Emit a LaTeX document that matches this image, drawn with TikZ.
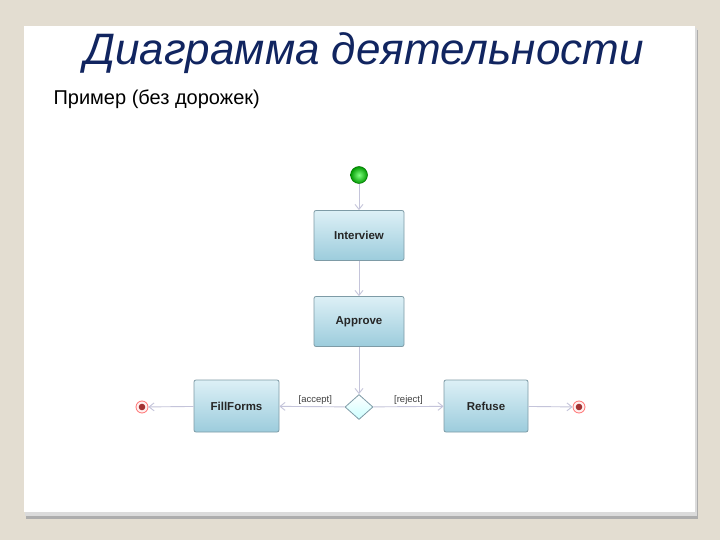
\documentclass[tikz,border=0pt]{standalone}
\usepackage{fontspec}
\setmainfont{Liberation Sans}
\usetikzlibrary{arrows.meta,shapes.geometric,shadows}
\definecolor{bg}{HTML}{E3DDD1}
\definecolor{titlec}{HTML}{112560}
\definecolor{arr}{HTML}{C4C4DA}
\definecolor{boxtop}{HTML}{DDF0F6}
\definecolor{boxbot}{HTML}{9CCCDC}
\definecolor{boxdraw}{HTML}{7E9BA6}
\tikzset{
  actbox/.style={draw=boxdraw, line width=0.8pt, rounded corners=2pt, top color=boxtop, bottom color=boxbot, minimum width=90pt, minimum height=50pt, font=\bfseries\fontsize{11.5}{13}\selectfont, text=black!85},
  flow/.style={draw=arr, line width=0.9pt, -{Straight Barb[length=5pt,width=8pt]}},
  guard/.style={font=\fontsize{9.5}{11}\selectfont, text=black!75, inner sep=1.5pt},
  finalst/.style={circle, draw=red!40!pink, line width=0.8pt, fill=red!6, minimum size=12pt, inner sep=0pt},
}
\begin{document}
\begin{tikzpicture}[x=1pt,y=-1pt]
\useasboundingbox (0,0) rectangle (720,540);
\fill[bg] (0,0) rectangle (720,540);
% shadow
\fill[black!32] (26,30) rectangle (698,519);
\fill[black!14] (25,28) rectangle (697,516);
\fill[white] (24,26) rectangle (695,512);
% titles
\node (title) at (364,53) {\fontsize{44}{50}\selectfont\itshape\color{titlec}Диаграмма деятельности};
\node[anchor=west] (sub) at (50,99) {\fontsize{20}{24}\selectfont Пример (без дорожек)};
% nodes
\node[circle, draw=green!45!black, line width=0.5pt, inner color=green!50!white, outer color=green!60!black, minimum size=17pt, inner sep=0pt] (init) at (359,175) {};
\node[actbox] (interview) at (359,235.5) {Interview};
\node[actbox] (approve) at (359,321.5) {Approve};
\node[diamond, draw=boxdraw, line width=0.8pt, top color=white, bottom color=cyan!20, minimum width=28pt, minimum height=25pt, inner sep=0pt] (dec) at (359,407) {};
\node[actbox, minimum width=85pt, minimum height=52pt] (fill) at (236.5,406) {FillForms};
\node[actbox, minimum width=84pt, minimum height=52pt] (refuse) at (486,406) {Refuse};
\node[finalst] (endl) at (142,407) {};
\fill[red!55!black!80] (endl) circle (3.3pt);
\node[finalst] (endr) at (579,407) {};
\fill[red!55!black!80] (endr) circle (3.3pt);
% flows
\draw[flow] (init) -- (interview);
\draw[flow] (interview) -- (approve);
\draw[flow] (approve) -- (dec);
\draw[flow] (dec) -- node[guard, above, pos=0.45] {[accept]} (fill);
\draw[flow] (dec) -- node[guard, above, pos=0.5] {[reject]} (refuse);
\draw[flow] (fill) -- (endl);
\draw[flow] (refuse) -- (endr);
\end{tikzpicture}
\end{document}
